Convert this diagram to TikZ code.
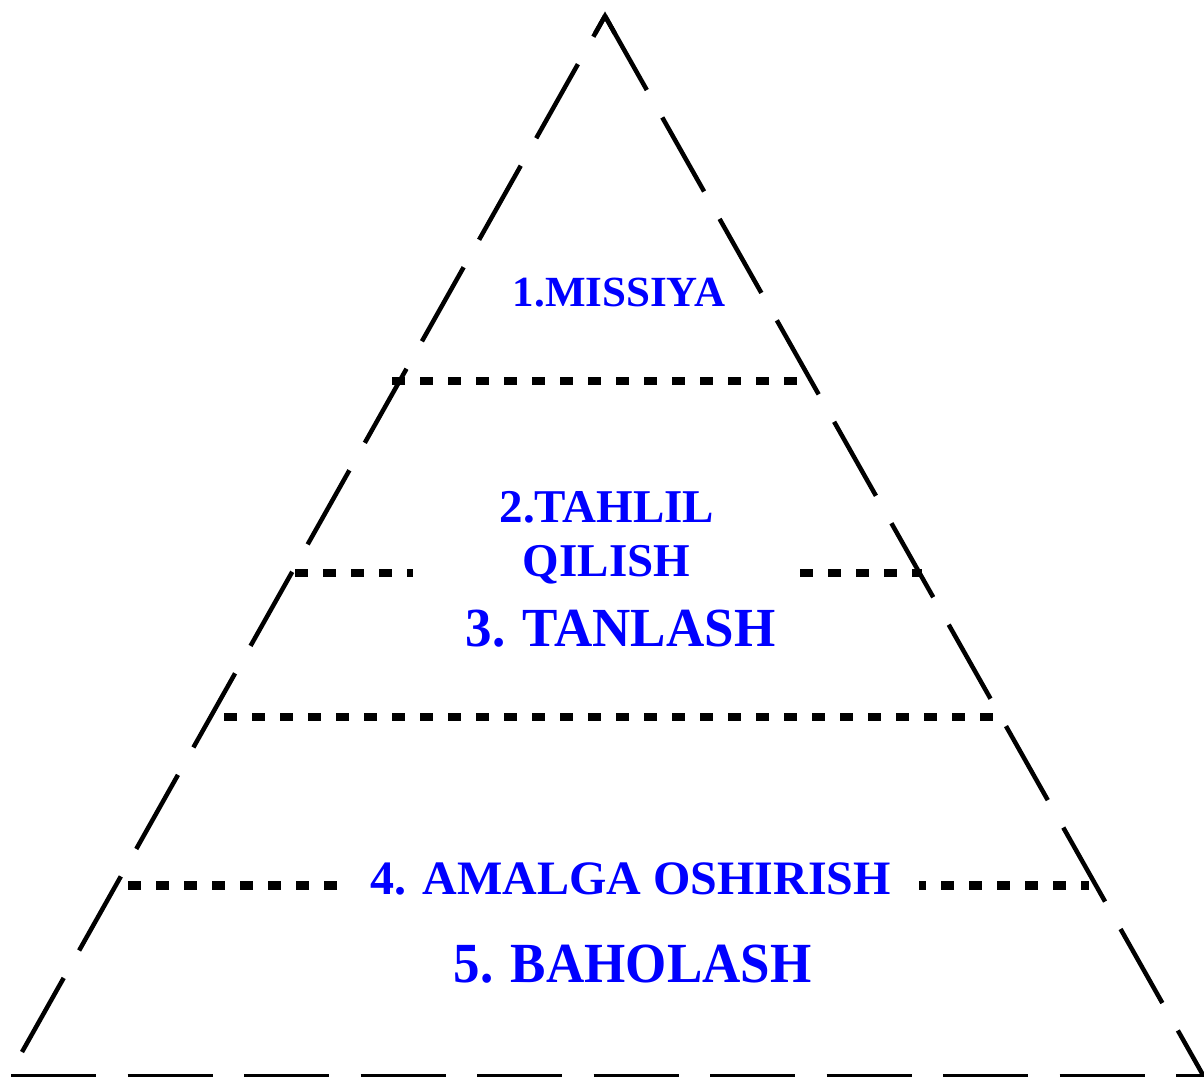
\documentclass[tikz,border=0pt]{standalone}
\usepackage{fontspec}
\setmainfont{Liberation Serif}
\usetikzlibrary{calc}
\definecolor{labelblue}{RGB}{0,0,255}
\begin{document}
\begin{tikzpicture}[x=1pt,y=-1pt,
  leg/.style={line width=4.5pt,dash pattern=on 85pt off 31.5pt},
  baseline/.style={line width=3.2pt,dash pattern=on 85pt off 31.5pt},
  tier/.style={line width=8.5pt,dash pattern=on 13pt off 15pt},
  lbl/.style={inner sep=0pt,anchor=base,text=labelblue},
  fs/.style={font={\fontsize{#1}{#1}\selectfont\bfseries}}]
  \useasboundingbox (0,0) rectangle (1204,1077);

  % corners of the pyramid
  \coordinate (apex) at (605,16);
  \coordinate (bl) at (22,1052);
  \coordinate (br) at (1203,1075);
  \coordinate (gl) at (11,1075.5);
  \coordinate (gr) at (1204,1075.5);

  % dashed outline
  \draw[leg] (bl) -- (apex);
  \draw[leg] (apex) -- (br);
  \draw[line width=4.5pt,miter limit=10] ($(apex)!20pt!(bl)$) -- (apex) -- ($(apex)!20pt!(br)$);
  \draw[baseline] (gl) -- (gr);

  % dotted tier separators
  \coordinate (t1a) at (392,381);   \coordinate (t1b) at (798,381);
  \coordinate (t2a) at (295,573);   \coordinate (t2b) at (413,573);
  \coordinate (t2c) at (800,573);   \coordinate (t2d) at (922,573);
  \coordinate (t3a) at (224,717);   \coordinate (t3b) at (993,717);
  \coordinate (t4a) at (128,885.5); \coordinate (t4b) at (338,885.5);
  \coordinate (t4c) at (919,885.5); \coordinate (t4d) at (1089,885.5);
  \draw[tier] (t1a) -- (t1b);
  \draw[tier] (t2a) -- (t2b);
  \draw[tier] (t2c) -- (t2d);
  \draw[tier] (t3a) -- (t3b);
  \draw[tier] (t4a) -- (t4b);
  \draw[tier,dash phase=6pt] (t4c) -- (t4d);

  % tier labels
  \node[lbl,fs=43] (missiya) at (619,306) {1.MISSIYA};
  \node[lbl,fs=47] (tahlil) at (607,522.7) {2.TAHLIL};
  \node[lbl,fs=47] (qilish) at (606.5,576.7) {QILISH};
  \node[lbl,fs=53] (tanlash) at (620.4,646.7) {\scalebox{1}[1.04]{3. TANLASH}};
  \node[lbl,fs=48] (amalga) at (630.8,894.3) {4. AMALGA OSHIRISH};
  \node[lbl,fs=53] (baholash) at (632.5,982.7) {\scalebox{1}[1.07]{5. BAHOLASH}};
\end{tikzpicture}
\end{document}
